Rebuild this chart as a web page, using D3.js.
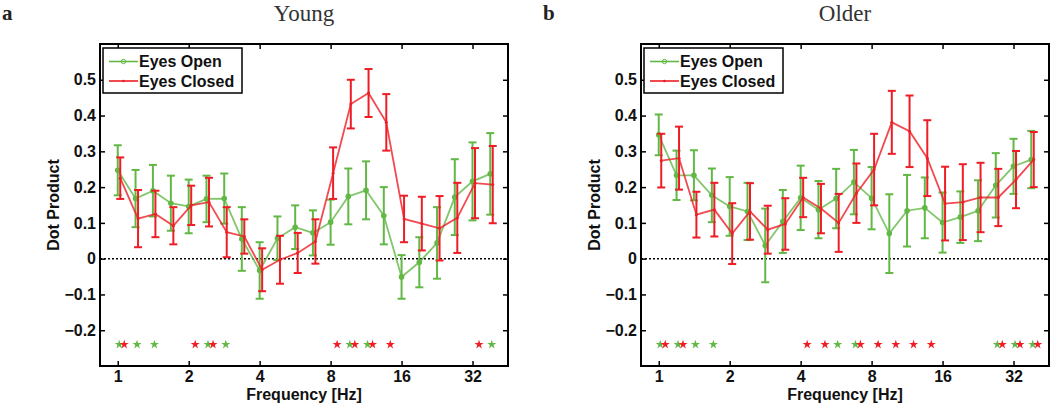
<!DOCTYPE html>
<html>
<head>
<meta charset="utf-8">
<script src="https://cdn.jsdelivr.net/npm/d3@7"></script>
<style>
  body { margin: 0; background: #fff; }
  svg { display: block; }
  .tick text { font-family: "Liberation Sans", Arial, sans-serif; font-weight: bold; font-size: 16px; fill: #111; }
</style>
</head>
<body>
<svg id="chart" width="1050" height="404"></svg>
<script>

const freqs = [1, 1.19, 1.41, 1.68, 2, 2.38, 2.83, 3.36, 4, 4.76, 5.66, 6.73,
               8, 9.51, 11.31, 13.45, 16, 19.03, 22.63, 26.91, 32, 38.05];

// Young
const youngOpenMean = [0.247, 0.168, 0.19, 0.155, 0.146, 0.167, 0.168, 0.055, -0.033, 0.057, 0.088, 0.072,
                       0.102, 0.174, 0.191, 0.12, -0.051, -0.01, 0.044, 0.172, 0.216, 0.237];
const youngOpenErr  = [0.07, 0.08, 0.072, 0.077, 0.075, 0.065, 0.07, 0.089, 0.079, 0.061, 0.061, 0.063,
                       0.063, 0.078, 0.081, 0.08, 0.061, 0.07, 0.1, 0.106, 0.109, 0.114];
const youngClosedMean = [0.225, 0.112, 0.125, 0.092, 0.149, 0.158, 0.074, 0.062, -0.031, -0.003, 0.016, 0.048,
                         0.239, 0.432, 0.463, 0.381, 0.111, 0.098, 0.085, 0.114, 0.211, 0.207];
const youngClosedErr  = [0.058, 0.08, 0.065, 0.052, 0.055, 0.068, 0.07, 0.048, 0.06, 0.067, 0.056, 0.062,
                         0.072, 0.068, 0.067, 0.079, 0.065, 0.075, 0.09, 0.098, 0.098, 0.108];
const youngOpenStars = [1, 1.19, 1.41, 2.38, 2.83, 9.51, 11.31, 38.05];
const youngClosedStars = [1, 2, 2.38, 8, 9.51, 11.31, 13.45, 32];

// Older
const olderOpenMean = [0.346, 0.233, 0.233, 0.177, 0.146, 0.132, 0.037, 0.104, 0.17, 0.137, 0.168, 0.214,
                       0.169, 0.07, 0.134, 0.142, 0.101, 0.116, 0.134, 0.205, 0.258, 0.277];
const olderOpenErr  = [0.057, 0.069, 0.07, 0.075, 0.082, 0.08, 0.103, 0.088, 0.09, 0.08, 0.083, 0.09,
                       0.087, 0.11, 0.1, 0.085, 0.084, 0.072, 0.085, 0.09, 0.077, 0.08];
const olderClosedMean = [0.274, 0.281, 0.123, 0.137, 0.07, 0.132, 0.081, 0.097, 0.171, 0.14, 0.1, 0.183,
                         0.249, 0.381, 0.356, 0.281, 0.154, 0.158, 0.171, 0.171, 0.221, 0.277];
const olderClosedErr  = [0.075, 0.088, 0.064, 0.075, 0.085, 0.079, 0.067, 0.072, 0.055, 0.069, 0.081, 0.083,
                         0.1, 0.088, 0.1, 0.106, 0.103, 0.106, 0.097, 0.08, 0.08, 0.077];
const olderOpenStars = [1, 1.19, 1.41, 1.68, 5.66, 6.73, 26.91, 32, 38.05];
const olderClosedStars = [1, 1.19, 4, 4.76, 6.73, 8, 9.51, 11.31, 13.45, 26.91, 32, 38.05];

const xTicks = [1, 2, 4, 8, 16, 32];
const yTicks = [-0.2, -0.1, 0, 0.1, 0.2, 0.3, 0.4, 0.5];
const starLevel = -0.24;

const panelTitles = ["Young", "Older"];
const panelLetters = ["a", "b"];
const legendLabels = ["Eyes Open", "Eyes Closed"];

const green = "#62b845";
const red = "#ee1d25";

const pw = 408, ph = 322, plotTop = 44;
const panelLeft = [100, 641];

const svg = d3.select("#chart");

const x = d3.scaleLog().base(2).domain([Math.pow(2, -0.25), Math.pow(2, 5.5)]).range([0, pw]);
const y = d3.scaleLinear().domain([-0.3, 0.6]).range([ph, 0]);

const panels = [
  { open: [youngOpenMean, youngOpenErr], closed: [youngClosedMean, youngClosedErr],
    openStars: youngOpenStars, closedStars: youngClosedStars },
  { open: [olderOpenMean, olderOpenErr], closed: [olderClosedMean, olderClosedErr],
    openStars: olderOpenStars, closedStars: olderClosedStars }
];

panels.forEach((p, i) => {
  const g = svg.append("g").attr("transform", `translate(${panelLeft[i]},${plotTop})`);

  // titles
  svg.append("text")
     .attr("x", panelLeft[i] + pw / 2).attr("y", 21)
     .attr("text-anchor", "middle")
     .style("font-family", "'Liberation Serif', 'Times New Roman', serif")
     .style("font-size", "23px").attr("fill", "#333")
     .text(panelTitles[i]);
  svg.append("text")
     .attr("x", panelLeft[i] - 98).attr("y", 20)
     .style("font-family", "'Liberation Serif', 'Times New Roman', serif")
     .style("font-weight", "bold").style("font-size", "21px").attr("fill", "#222")
     .text(panelLetters[i]);

  // zero line
  g.append("line")
   .attr("x1", 0).attr("x2", pw).attr("y1", y(0)).attr("y2", y(0))
   .attr("stroke", "#000").attr("stroke-width", 1.5).attr("stroke-dasharray", "2,2");

  // axes
  const ax = g.append("g").attr("transform", `translate(0,${ph})`)
     .call(d3.axisBottom(x).tickValues(xTicks).tickFormat(d3.format("d")).tickSizeInner(-5).tickSizeOuter(0).tickPadding(5));
  const ay = g.append("g")
     .call(d3.axisLeft(y).tickValues(yTicks).tickFormat(d => d === 0 ? "0" : d3.format(".1f")(d)).tickSizeInner(-5).tickSizeOuter(0).tickPadding(4));
  const at = g.append("g")
     .call(d3.axisTop(x).tickValues(xTicks).tickFormat("").tickSizeInner(-5).tickSizeOuter(0));
  const ar = g.append("g").attr("transform", `translate(${pw},0)`)
     .call(d3.axisRight(y).tickValues(yTicks).tickFormat("").tickSizeInner(-5).tickSizeOuter(0));
  [ax, ay, at, ar].forEach(a => {
    a.select(".domain").remove();
    a.selectAll(".tick line").attr("stroke", "#000").attr("stroke-width", 1.5);
  });

  // series
  const series = [
    { vals: p.open, color: green, dx: 0, r: 2.8 },
    { vals: p.closed, color: red, dx: 2.5, r: 1.5 }
  ];
  series.forEach(s => {
    const data = freqs.map((f, k) => ({ f: f, m: s.vals[0][k], e: s.vals[1][k] }));
    const line = d3.line().x(d => x(d.f) + s.dx).y(d => y(d.m));
    g.append("path").datum(data)
     .attr("d", line).attr("fill", "none")
     .attr("stroke", s.color).attr("stroke-width", 1.8).attr("stroke-opacity", 0.8);

    const eb = g.append("g").attr("stroke", s.color).attr("stroke-width", 2);
    eb.selectAll("line.v").data(data).enter().append("line")
      .attr("x1", d => x(d.f) + s.dx).attr("x2", d => x(d.f) + s.dx)
      .attr("y1", d => y(d.m - d.e)).attr("y2", d => y(d.m + d.e));
    eb.selectAll("line.t").data(data).enter().append("line")
      .attr("x1", d => x(d.f) + s.dx - 4).attr("x2", d => x(d.f) + s.dx + 4)
      .attr("y1", d => y(d.m + d.e)).attr("y2", d => y(d.m + d.e));
    eb.selectAll("line.b").data(data).enter().append("line")
      .attr("x1", d => x(d.f) + s.dx - 4).attr("x2", d => x(d.f) + s.dx + 4)
      .attr("y1", d => y(d.m - d.e)).attr("y2", d => y(d.m - d.e));

    g.selectAll(null).data(data).enter().append("circle")
     .attr("cx", d => x(d.f) + s.dx).attr("cy", d => y(d.m))
     .attr("r", s.r).attr("fill", s.color);
  });

  // significance stars
  const star = d3.symbol().type(d3.symbolStar).size(26);
  [[p.openStars, green, 1.5], [p.closedStars, red, 6.5]].forEach(([arr, col, dx]) => {
    g.selectAll(null).data(arr).enter().append("path")
     .attr("d", star)
     .attr("transform", d => `translate(${x(d) + dx},${y(starLevel)})`)
     .attr("fill", col);
  });

  // frame
  g.append("rect").attr("width", pw).attr("height", ph)
   .attr("fill", "none").attr("stroke", "#000").attr("stroke-width", 2);

  // legend
  const lg = g.append("g").attr("transform", "translate(3,4)");
  lg.append("rect").attr("width", 139).attr("height", 45)
    .attr("fill", "#fff").attr("stroke", "#000").attr("stroke-width", 1.5);
  [green, red].forEach((col, j) => {
    const ly = 13.5 + j * 19.5;
    lg.append("line").attr("x1", 6).attr("x2", 35).attr("y1", ly).attr("y2", ly)
      .attr("stroke", col).attr("stroke-width", 1.6);
    if (j === 0) {
      lg.append("circle").attr("cx", 20.5).attr("cy", ly).attr("r", 2.2)
        .attr("fill", "none").attr("stroke", col).attr("stroke-width", 1);
    } else {
      lg.append("circle").attr("cx", 20.5).attr("cy", ly).attr("r", 1.3).attr("fill", col);
    }
    lg.append("text").attr("x", 36).attr("y", ly).attr("dy", "0.36em")
      .style("font-family", "'Liberation Sans', Arial, sans-serif")
      .style("font-weight", "bold").style("font-size", "16px").attr("fill", "#111")
      .text(legendLabels[j]);
  });

  // axis labels
  g.append("text")
   .attr("x", pw / 2).attr("y", ph + 34)
   .attr("text-anchor", "middle")
   .style("font-family", "'Liberation Sans', Arial, sans-serif")
   .style("font-weight", "bold").style("font-size", "16px").attr("fill", "#111")
   .text("Frequency [Hz]");
  g.append("text")
   .attr("transform", `translate(-41,${ph / 2}) rotate(-90)`)
   .attr("text-anchor", "middle")
   .style("font-family", "'Liberation Sans', Arial, sans-serif")
   .style("font-weight", "bold").style("font-size", "16px").attr("fill", "#111")
   .text("Dot Product");
});

</script>
</body>
</html>
